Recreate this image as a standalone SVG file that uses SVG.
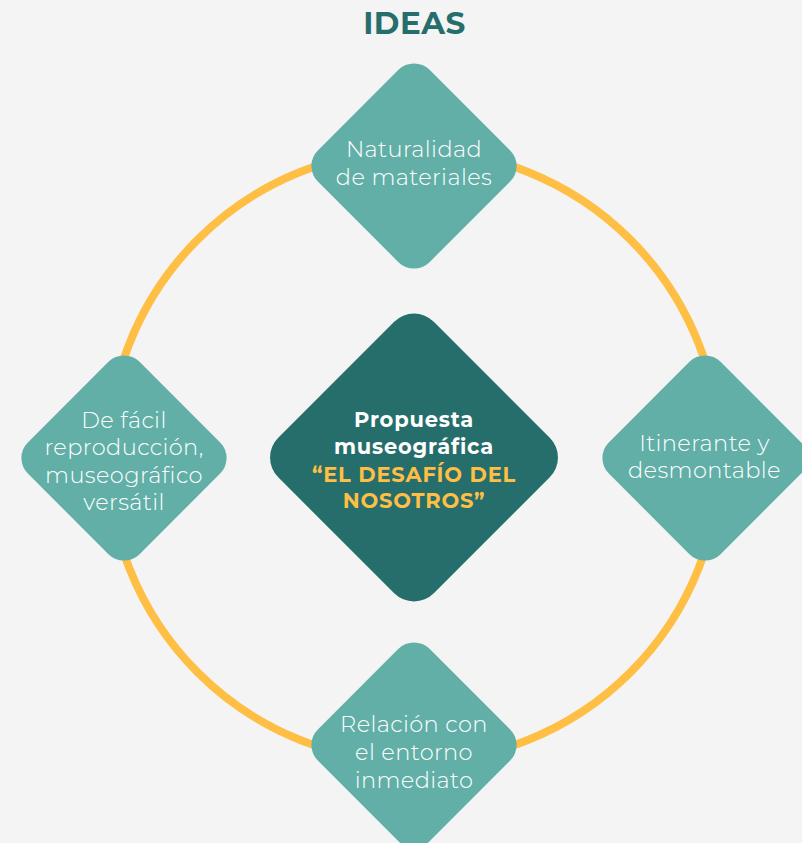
<svg xmlns="http://www.w3.org/2000/svg" width="802" height="843" viewBox="0 0 802 843">
<style>
.bg{fill:#f4f4f4}
.ring{fill:none;stroke:#ffbe44;stroke-width:8}
.d{fill:#62afa8}
.dc{fill:#266e6b}
.t{font-family:"Montserrat","Open Sans","Noto Sans","DejaVu Sans",sans-serif;font-weight:300;font-size:22.5px;letter-spacing:0.4px;fill:#ffffff;text-anchor:middle}
.c{font-family:"Montserrat","Open Sans","Noto Sans","DejaVu Sans",sans-serif;font-weight:700;font-size:21px;letter-spacing:0.8px;fill:#ffffff;text-anchor:middle}
.y{fill:#ffbe44}
.title{font-family:"Montserrat","Open Sans","Noto Sans","DejaVu Sans",sans-serif;font-weight:700;font-size:31px;letter-spacing:0.5px;fill:#266e6b;text-anchor:middle}
</style>
<rect class="bg" x="0" y="0" width="802" height="843"/>
<text class="title" x="414.5" y="34">IDEAS</text>
<g id="connectors">
<circle class="ring" cx="414" cy="456" r="306"/>
</g>
<g id="node-top">
<rect class="d" x="335" y="87" width="158" height="158" rx="22" transform="rotate(45 414 166)"/>
<text class="t" x="414" y="157">Naturalidad</text>
<text class="t" x="414" y="185">de materiales</text>
</g>
<g id="node-left">
<rect class="d" x="45" y="379" width="158" height="158" rx="22" transform="rotate(45 124 458)"/>
<text class="t" x="124" y="428">De fácil</text>
<text class="t" x="124" y="455">reproducción,</text>
<text class="t" x="124" y="483">museográfico</text>
<text class="t" x="124" y="510">versátil</text>
</g>
<g id="node-right">
<rect class="d" x="626" y="379" width="158" height="158" rx="22" transform="rotate(45 705 458)"/>
<text class="t" x="704.5" y="451">Itinerante y</text>
<text class="t" x="704.5" y="478">desmontable</text>
</g>
<g id="node-bottom">
<rect class="d" x="335" y="666" width="158" height="158" rx="22" transform="rotate(45 414 745)"/>
<text class="t" x="414" y="732">Relación con</text>
<text class="t" x="414" y="760">el entorno</text>
<text class="t" x="414" y="788">inmediato</text>
</g>
<g id="node-center">
<rect class="dc" x="304" y="347.5" width="220" height="220" rx="28" transform="rotate(45 414 457.5)"/>
<text class="c" x="414" y="427">Propuesta</text>
<text class="c" x="414" y="454">museográfica</text>
<text class="c y" x="414" y="482">“EL DESAFÍO DEL</text>
<text class="c y" x="414" y="508">NOSOTROS”</text>
</g>
</svg>
